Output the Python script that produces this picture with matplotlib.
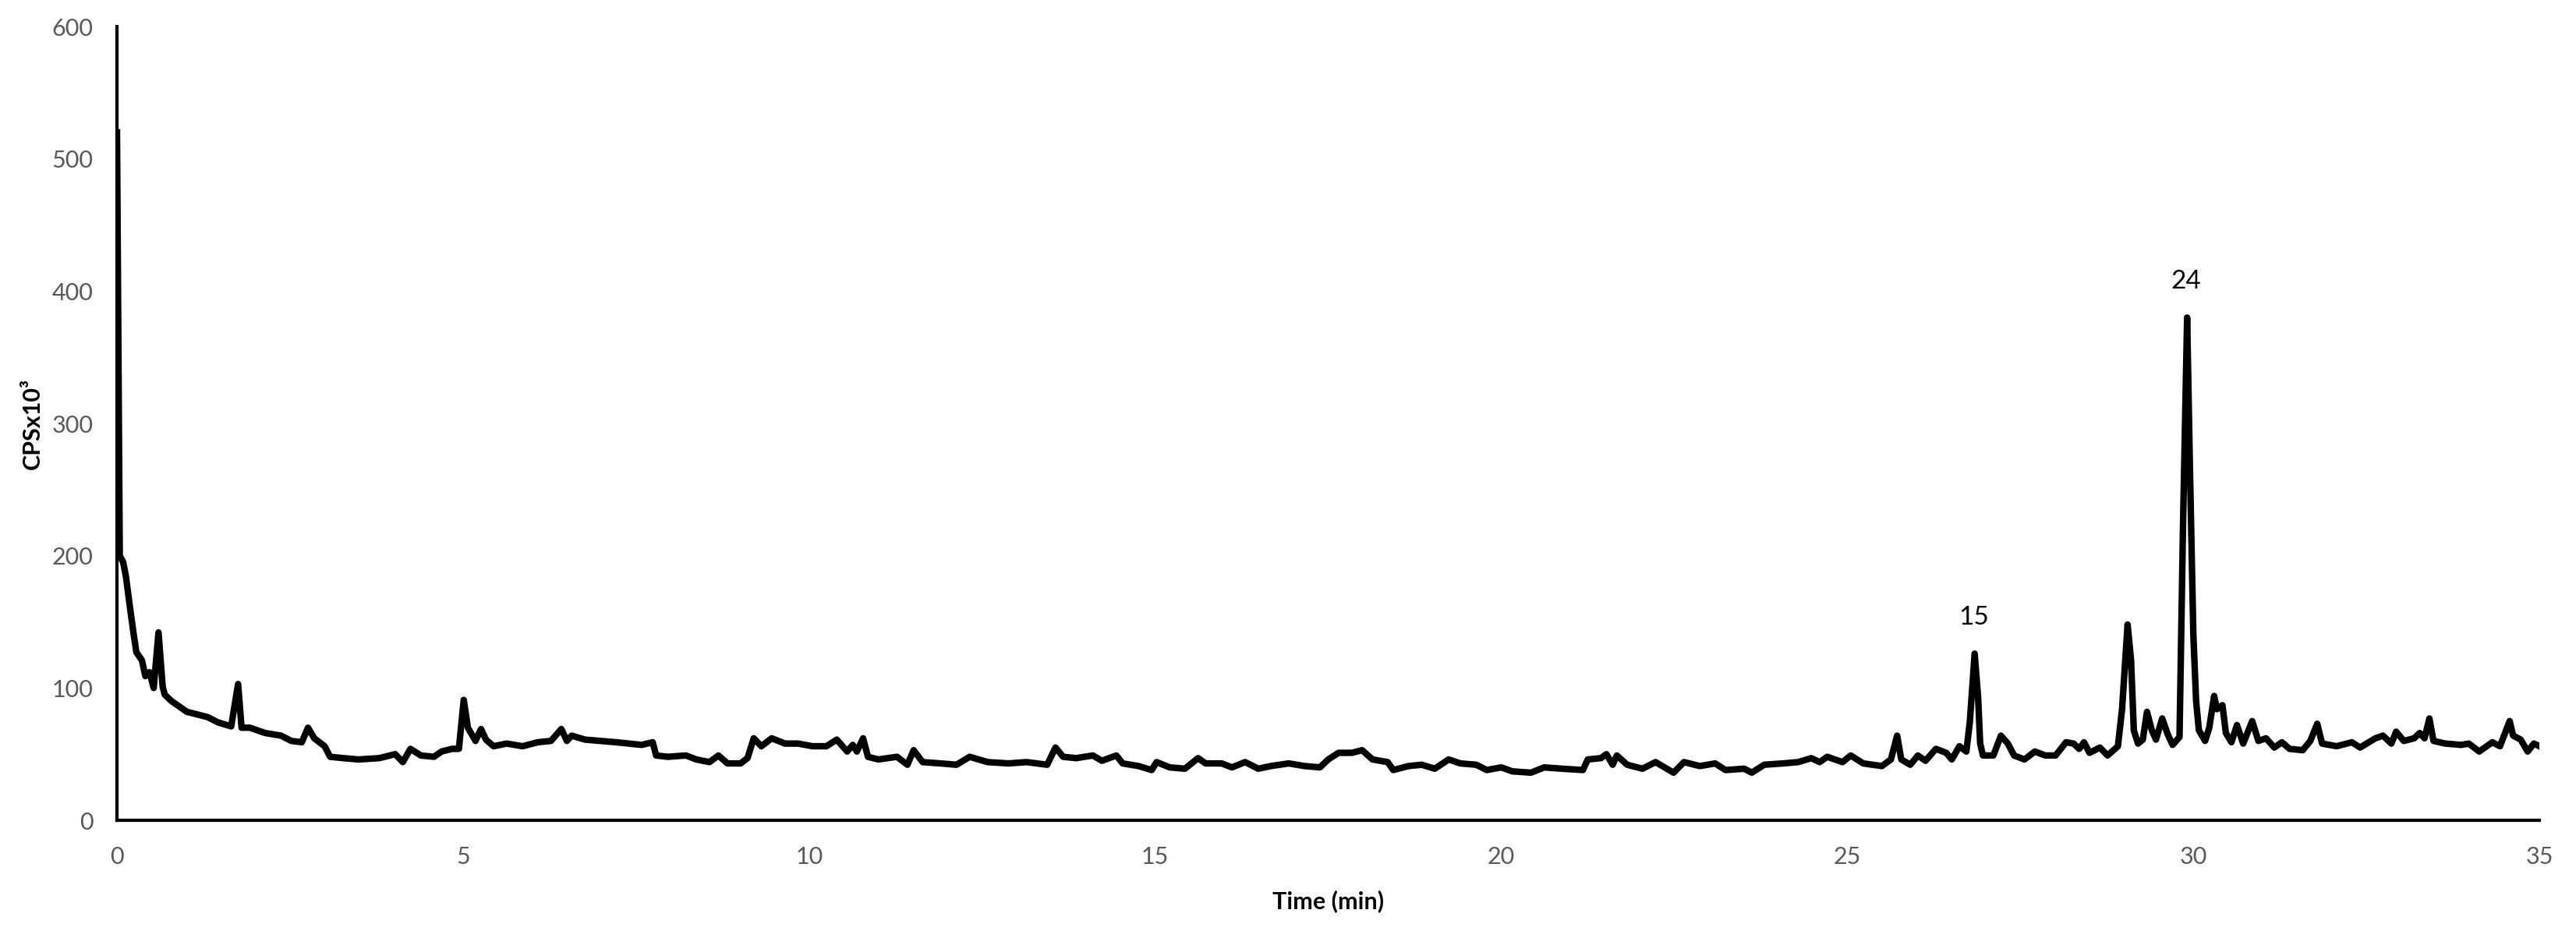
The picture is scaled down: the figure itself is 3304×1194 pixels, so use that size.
import matplotlib
matplotlib.use("Agg")
import matplotlib.pyplot as plt

# Chromatogram trace (time in min, CPS x10^3)
time_min = [
    0.00, 0.04, 0.09, 0.13, 0.19, 0.24, 0.28, 0.36, 0.41, 0.47, 0.53, 0.60, 0.66, 0.69,
    0.79, 0.90, 1.01, 1.16, 1.31, 1.46, 1.65, 1.75, 1.80, 1.92, 2.14, 2.37, 2.52, 2.67,
    2.76, 2.85, 3.00, 3.08, 3.27, 3.49, 3.79, 4.02, 4.13, 4.24, 4.39, 4.58, 4.69, 4.84,
    4.94, 5.01, 5.07, 5.18, 5.26, 5.33, 5.44, 5.63, 5.86, 6.08, 6.27, 6.42, 6.50, 6.57,
    6.76, 6.98, 7.21, 7.40, 7.58, 7.74, 7.79, 7.96, 8.22, 8.37, 8.56, 8.69, 8.82, 9.01,
    9.11, 9.20, 9.31, 9.46, 9.65, 9.84, 10.05, 10.25, 10.40, 10.55, 10.63, 10.69, 10.78,
    10.85, 11.00, 11.27, 11.42, 11.51, 11.64, 11.90, 12.13, 12.32, 12.58, 12.88, 13.14,
    13.44, 13.56, 13.67, 13.86, 14.10, 14.23, 14.44, 14.53, 14.76, 14.95, 15.02, 15.21,
    15.43, 15.62, 15.73, 15.96, 16.11, 16.30, 16.49, 16.67, 16.93, 17.16, 17.38, 17.50,
    17.65, 17.84, 17.99, 18.14, 18.36, 18.44, 18.66, 18.85, 19.04, 19.24, 19.41, 19.64,
    19.79, 20.00, 20.16, 20.43, 20.62, 20.88, 21.18, 21.25, 21.44, 21.52, 21.61, 21.67,
    21.82, 22.04, 22.23, 22.49, 22.64, 22.87, 23.09, 23.24, 23.51, 23.62, 23.80, 24.07,
    24.29, 24.48, 24.60, 24.71, 24.93, 25.05, 25.23, 25.50, 25.63, 25.72, 25.78, 25.91,
    26.02, 26.13, 26.28, 26.43, 26.51, 26.62, 26.72, 26.77, 26.84, 26.89, 26.92, 26.96,
    27.11, 27.22, 27.32, 27.41, 27.56, 27.71, 27.86, 28.01, 28.16, 28.27, 28.35, 28.42,
    28.50, 28.65, 28.76, 28.91, 28.97, 29.05, 29.10, 29.14, 29.20, 29.27, 29.33, 29.40,
    29.46, 29.55, 29.63, 29.70, 29.80, 29.85, 29.91, 29.95, 30.00, 30.04, 30.08, 30.17,
    30.23, 30.30, 30.34, 30.42, 30.47, 30.55, 30.63, 30.72, 30.85, 30.94, 31.05, 31.17,
    31.28, 31.39, 31.58, 31.69, 31.79, 31.86, 32.07, 32.29, 32.41, 32.63, 32.74, 32.86,
    32.93, 33.04, 33.19, 33.27, 33.34, 33.41, 33.47, 33.64, 33.87, 33.98, 34.13, 34.32,
    34.43, 34.57, 34.62, 34.73, 34.83, 34.92, 35.04,
]
cps = [
    520, 200, 195, 184, 160, 141, 127, 121, 109, 112, 100, 142, 101, 95,
    90, 86, 82, 80, 78, 74, 71, 103, 70, 70, 66, 64, 60, 59,
    70, 62, 56, 48, 47, 46, 47, 50, 44, 54, 49, 48, 52, 54,
    54, 91, 70, 60, 69, 61, 56, 58, 56, 59, 60, 69, 60, 64,
    61, 60, 59, 58, 57, 59, 49, 48, 49, 46, 44, 49, 43, 43,
    47, 62, 56, 62, 58, 58, 56, 56, 61, 52, 57, 52, 62,
    48, 46, 48, 42, 53, 44, 43, 42, 48, 44, 43, 44,
    42, 55, 48, 47, 49, 45, 49, 43, 41, 38, 44, 40,
    39, 47, 43, 43, 40, 44, 39, 41, 43, 41, 40, 46,
    51, 51, 53, 46, 44, 38, 41, 42, 39, 46, 43, 42,
    38, 40, 37, 36, 40, 39, 38, 46, 47, 50, 42, 49,
    42, 39, 44, 36, 44, 41, 43, 38, 39, 36, 42, 43,
    44, 47, 44, 48, 44, 49, 43, 41, 46, 64, 46, 42,
    49, 45, 54, 51, 46, 56, 52, 74, 126, 93, 58, 49,
    49, 64, 58, 49, 46, 52, 49, 49, 59, 58, 54, 59,
    51, 55, 49, 56, 84, 148, 121, 68, 58, 61, 82, 68,
    61, 77, 65, 57, 63, 221, 380, 268, 140, 90, 68, 60,
    70, 94, 84, 87, 66, 59, 72, 58, 75, 60, 62, 55,
    59, 54, 53, 60, 73, 58, 56, 59, 55, 62, 64, 58,
    67, 60, 62, 66, 62, 77, 60, 58, 57, 58, 52, 59,
    56, 75, 64, 61, 52, 58, 55,
]

# peak labels
peak_names = ["15", "24"]
peak_pos = [(26.83, 153), (29.89, 407)]

plt.rcParams["font.family"] = ["Lato", "DejaVu Sans"]

fig = plt.figure(figsize=(16.525, 5.97), dpi=200)
ax = fig.add_axes([0.0454, 0.1189, 0.9401, 0.8526])

ax.plot(time_min, cps, color="black", linewidth=3.0, solid_joinstyle="round")

for name, (x, y) in zip(peak_names, peak_pos):
    ax.text(x, y, name, ha="center", va="center", fontsize=12, color="black")

ax.set_xlim(0, 35)
ax.set_ylim(0, 600)
ax.set_xticks(range(0, 36, 5))
ax.set_yticks(range(0, 601, 100))
ax.tick_params(length=0, labelsize=11, labelcolor="#595959")
ax.tick_params(axis="x", pad=12)
ax.tick_params(axis="y", pad=11)

for side in ("top", "right"):
    ax.spines[side].set_visible(False)
for side in ("left", "bottom"):
    ax.spines[side].set_linewidth(1.5)
    ax.spines[side].set_color("black")

ax.set_xlabel("Time (min)", fontsize=11, fontweight="bold", labelpad=10)
ax.set_ylabel("CPSx10³", fontsize=11, fontweight="bold", labelpad=4)

fig.savefig("out.png", dpi=200)
